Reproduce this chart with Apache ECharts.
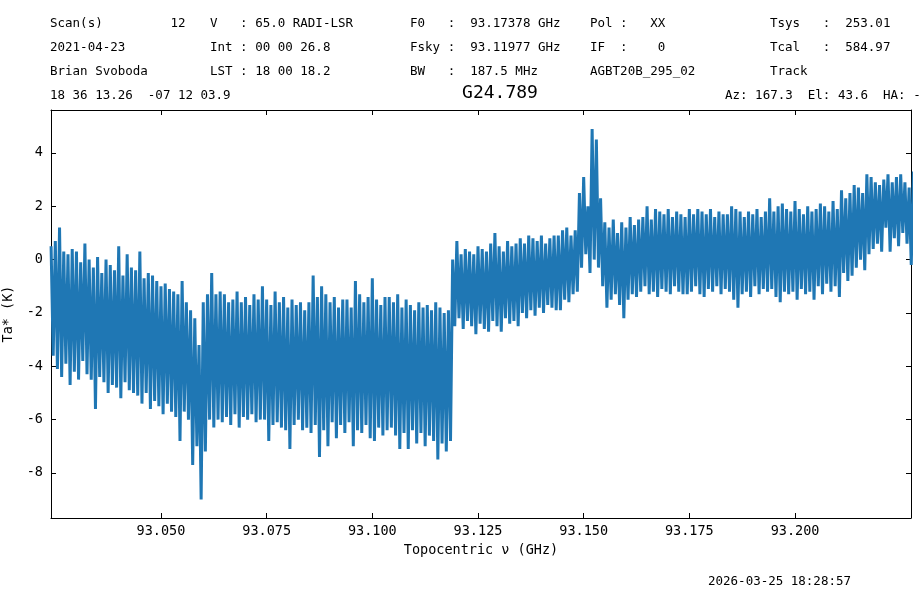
<!DOCTYPE html>
<html><head><meta charset="utf-8">
<script src="https://cdn.jsdelivr.net/npm/echarts@6/dist/echarts.min.js"></script>
<style>html,body{margin:0;padding:0;background:#fff}#c{width:921px;height:591px}</style>
</head><body><div id="c"></div>
<script>
const freqStart = 93.024, freqStep = 0.0005;
const taValues = [
0.5,-3.6,0.7,-4.1,1.2,-4.4,0.3,-3.9,0.2,-4.7,0.4,-4.2,0.3,-4.5,-0.1,-3.8,0.6,-4.3,0.0,-4.5,
-0.3,-5.6,0.1,-4.4,-0.5,-4.6,0.0,-5.0,-0.2,-4.7,-0.4,-4.8,0.5,-5.2,-0.6,-4.6,0.2,-4.9,-0.3,-5.0,
-0.4,-5.1,0.3,-5.4,-0.7,-5.0,-0.5,-5.6,-0.6,-5.3,-0.8,-5.5,-1.0,-5.8,-0.9,-5.4,-1.1,-5.7,-1.2,-5.9,
-1.3,-6.8,-0.8,-5.7,-1.6,-6.0,-1.9,-7.7,-2.2,-7.0,-3.2,-9.0,-1.6,-7.2,-1.3,-6.0,-0.5,-6.3,-1.3,-6.0,
-1.2,-6.1,-1.3,-5.9,-1.6,-6.2,-1.5,-5.8,-1.2,-6.3,-1.6,-5.9,-1.4,-6.0,-1.7,-5.8,-1.3,-6.1,-1.5,-6.0,
-1.0,-6.0,-1.5,-6.8,-1.7,-6.2,-1.2,-6.1,-1.6,-6.3,-1.4,-6.4,-1.8,-7.1,-1.5,-6.2,-1.7,-6.0,-1.6,-6.4,
-1.9,-6.3,-1.6,-6.5,-0.6,-6.2,-1.4,-7.4,-1.0,-6.4,-1.3,-7.0,-1.6,-6.1,-1.4,-6.7,-1.8,-6.2,-1.5,-6.5,
-1.5,-6.1,-1.8,-7.0,-0.8,-6.4,-1.3,-6.5,-1.6,-6.2,-1.4,-6.7,-0.7,-6.8,-1.5,-6.3,-1.7,-6.6,-1.4,-6.4,
-1.4,-6.3,-1.6,-6.6,-1.3,-7.1,-1.8,-6.5,-1.5,-7.1,-1.7,-6.4,-1.9,-6.9,-1.6,-6.5,-1.8,-7.0,-1.7,-6.6,
-1.9,-6.8,-1.6,-7.5,-1.8,-6.9,-2.0,-7.2,-1.9,-6.8,0.0,-2.5,0.7,-2.2,0.2,-2.6,0.4,-2.3,0.3,-2.5,
0.2,-2.8,0.5,-2.4,0.4,-2.6,0.3,-2.7,0.6,-2.3,1.0,-2.5,0.5,-2.7,0.3,-2.2,0.7,-2.4,0.5,-2.3,
0.6,-2.5,0.8,-2.0,0.6,-2.2,0.9,-1.9,0.8,-2.1,0.7,-1.8,0.9,-2.0,0.6,-1.7,0.8,-1.8,0.9,-1.9,
0.9,-1.9,1.1,-1.5,1.2,-1.6,0.9,-1.3,1.1,-1.2,2.5,-0.3,3.1,0.2,2.0,-0.5,4.9,0.0,4.5,-0.3,
2.3,-1.0,1.4,-1.8,1.2,-1.5,1.5,-1.3,1.0,-1.7,1.4,-2.2,1.2,-1.5,1.6,-1.3,1.3,-1.4,1.5,-1.2,
1.6,-1.0,2.0,-1.3,1.5,-1.2,1.9,-1.4,1.8,-1.1,1.7,-1.2,1.9,-1.3,1.6,-1.0,1.8,-1.2,1.7,-1.3,
1.6,-1.3,1.9,-1.2,1.7,-1.0,1.9,-1.3,1.8,-1.4,1.7,-1.1,1.9,-1.2,1.6,-1.0,1.8,-1.3,1.7,-1.1,
1.7,-1.2,2.0,-1.5,1.9,-1.8,1.8,-1.3,1.6,-1.2,1.8,-1.4,1.7,-1.0,1.9,-1.3,1.6,-1.1,1.8,-1.2,
2.3,-1.1,1.8,-1.4,2.0,-1.6,2.1,-1.2,1.9,-1.3,1.8,-1.2,2.2,-1.5,1.9,-1.1,1.7,-1.3,2.0,-1.2,
1.8,-1.5,1.9,-1.0,2.1,-1.3,2.0,-0.9,1.8,-1.2,2.2,-1.0,1.9,-1.4,2.6,-0.5,2.3,-0.8,2.5,-0.6,
2.8,-0.3,2.7,0.0,2.5,-0.4,3.2,0.2,3.1,0.4,2.9,0.6,2.8,0.3,3.0,1.2,3.2,0.3,2.9,0.8,3.1,0.5,3.2,1.0,2.9,0.6,
2.7,-0.2,3.3,0.9,2.8,0.4,3.0,1.5
];
const xTicks = [93.05, 93.075, 93.1, 93.125, 93.15, 93.175, 93.2];
const yTicks = [-8, -6, -4, -2, 0, 2, 4];
const headerRows = [
  ["Scan(s)         12", "V   : 65.0 RADI-LSR", "F0   :  93.17378 GHz", "Pol :   XX", "Tsys   :  253.01"],
  ["2021-04-23", "Int : 00 00 26.8", "Fsky :  93.11977 GHz", "IF  :    0", "Tcal   :  584.97"],
  ["Brian Svoboda", "LST : 18 00 18.2", "BW   :  187.5 MHz", "AGBT20B_295_02", "Track"]
];
const colX = [50, 210, 410, 590, 770];

const data = taValues.map((v, i) => [freqStart + freqStep * i, v]);
const mono = "DejaVu Sans Mono";
const F = '12.5px ' + mono;
const texts = [];
headerRows.forEach((row, r) => row.forEach((t, c) => texts.push({
  type: 'text', left: colX[c], top: 17 + r * 24, style: {text: t, font: F, fill: '#000'}
})));
texts.push({type:'text', left:50, top:89, style:{text:'18 36 13.26  -07 12 03.9', font:F, fill:'#000'}});
texts.push({type:'text', left:725, top:89, style:{text:'Az: 167.3  El: 43.6  HA: -0.6', font:F, fill:'#000'}});
texts.push({type:'text', x:500, y:84, style:{text:'G24.789', font:'18px '+mono, fill:'#000', align:'center'}});
texts.push({type:'text', left:708, top:575, style:{text:'2026-03-25 18:28:57', font:F, fill:'#000'}});

const xBase = {type:'value', min:93.02398, max:93.22744,
  axisLine:{show:true, onZero:false, lineStyle:{color:'#000'}}, splitLine:{show:false},
  axisTick:{show:true, inside:true, length:5, customValues:xTicks, lineStyle:{color:'#000'}}};
const yBase = {type:'value', min:-9.69, max:5.61,
  axisLine:{show:true, onZero:false, lineStyle:{color:'#000'}}, splitLine:{show:false},
  axisTick:{show:true, inside:true, length:5, customValues:yTicks, lineStyle:{color:'#000'}}};

const chart = echarts.init(document.getElementById('c'));
chart.setOption({
  animation:false,
  grid:{left:51, top:110, right:10, bottom:73, containLabel:false, outerBoundsMode:'none'},
  xAxis:[
    Object.assign({}, xBase, {position:'bottom', name:'Topocentric ν (GHz)', nameLocation:'middle', nameGap:25,
      nameTextStyle:{fontFamily:mono, fontSize:13.5, color:'#000'},
      axisLabel:{customValues:xTicks, formatter:v=>v.toFixed(3), fontFamily:mono, fontSize:13.5, color:'#000', margin:6}}),
    Object.assign({}, xBase, {position:'top', axisLabel:{show:false}})
  ],
  yAxis:[
    Object.assign({}, yBase, {position:'left', name:'Ta* (K)', nameLocation:'middle', nameGap:28,
      nameTextStyle:{fontFamily:mono, fontSize:13.5, color:'#000'},
      axisLabel:{customValues:yTicks, fontFamily:mono, fontSize:13.5, color:'#000', margin:8}}),
    Object.assign({}, yBase, {position:'right', axisLabel:{show:false}})
  ],
  series:[{type:'line', data:data, showSymbol:false, lineStyle:{color:'#1f77b4', width:3}, clip:true}],
  graphic: texts
});
</script></body></html>
